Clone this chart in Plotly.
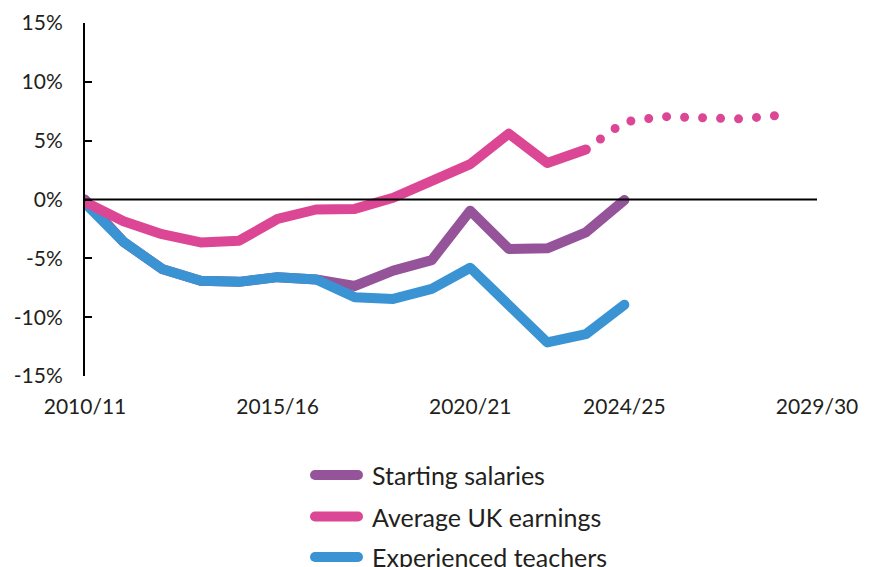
import plotly.graph_objects as go

years = ["2010/11", "2011/12", "2012/13", "2013/14", "2014/15", "2015/16", "2016/17",
         "2017/18", "2018/19", "2019/20", "2020/21", "2021/22", "2022/23", "2023/24",
         "2024/25", "2025/26", "2026/27", "2027/28", "2028/29", "2029/30"]

series_names = ["Starting salaries", "Average UK earnings", "Experienced teachers"]

starting_salaries = [0.0, -3.6, -5.9, -6.9, -7.0, -6.6, -6.8, -7.35, -6.05, -5.15,
                     -0.95, -4.2, -4.15, -2.8, -0.05]
experienced_teachers = [-0.3, -3.6, -5.9, -6.9, -7.0, -6.6, -6.8, -8.3, -8.45, -7.6,
                        -5.8, -9.0, -12.15, -11.45, -8.95]
uk_earnings = [-0.2, -1.85, -2.95, -3.65, -3.5, -1.65, -0.85, -0.8, 0.15, 1.6,
               3.0, 5.6, 3.1, 4.25]
uk_earnings_forecast = [4.25, 6.6, 7.05, 7.0, 6.85, 7.15]

y_tick_values = [15, 10, 5, 0, -5, -10, -15]
y_tick_labels = ["15%", "10%", "5%", "0%", "-5%", "-10%", "-15%"]
x_tick_labels = ["2010/11", "2015/16", "2020/21", "2024/25", "2029/30"]

PURPLE = "#95549A"
PINK = "#DC4795"
BLUE = "#3A93D2"
TEXT = "#231F20"
FONT = "Lato"

fig = go.Figure()
fig.add_trace(go.Scatter(x=years[:len(starting_salaries)], y=starting_salaries,
                         mode="lines", name=series_names[0],
                         line=dict(color=PURPLE, width=10), showlegend=False))
fig.add_trace(go.Scatter(x=years[:len(experienced_teachers)], y=experienced_teachers,
                         mode="lines", name=series_names[2],
                         line=dict(color=BLUE, width=10), showlegend=False))
fig.add_trace(go.Scatter(x=years[:len(uk_earnings)], y=uk_earnings,
                         mode="lines", name=series_names[1],
                         line=dict(color=PINK, width=10), showlegend=False))
start = len(uk_earnings) - 1
fig.add_trace(go.Scatter(x=years[start:start + len(uk_earnings_forecast)], y=uk_earnings_forecast,
                         mode="lines", name=series_names[1] + " (forecast)",
                         line=dict(color=PINK, width=9, dash="dot"), showlegend=False))

W, H = 869, 567
ML, MR, MT, MB = 85, 52, 23, 191
pw = W - ML - MR
ph = H - MT - MB


def px_to_paper_x(px):
    return (px - ML) / pw


def px_to_paper_y(py):
    return (H - MB - py) / ph


shapes = [dict(type="line", xref="paper", yref="y", x0=0, x1=1, y0=0, y1=0,
               line=dict(color="black", width=2), layer="above")]
annotations = []
legend_rows = [(series_names[0], PURPLE, 475), (series_names[1], PINK, 516.5),
               (series_names[2], BLUE, 557)]
for name, color, py in legend_rows:
    shapes.append(dict(type="line", xref="paper", yref="paper",
                       x0=px_to_paper_x(315), x1=px_to_paper_x(358),
                       y0=px_to_paper_y(py), y1=px_to_paper_y(py),
                       line=dict(color=color, width=10), layer="above"))
    annotations.append(dict(xref="paper", yref="paper", x=px_to_paper_x(370),
                            y=px_to_paper_y(py), xanchor="left", yanchor="middle",
                            text=name, showarrow=False,
                            font=dict(family=FONT, size=25, color=TEXT)))

fig.update_layout(
    width=W, height=H,
    margin=dict(l=ML, r=MR, t=MT, b=MB, pad=0),
    paper_bgcolor="white", plot_bgcolor="white",
    showlegend=False,
    font=dict(family=FONT, size=21, color=TEXT),
    shapes=shapes, annotations=annotations,
    xaxis=dict(type="category", categoryorder="array", categoryarray=years,
               range=[0, 19], tickmode="array", tickvals=x_tick_labels,
               ticktext=x_tick_labels, showgrid=False, zeroline=False,
               showline=False, ticks="", ticklabelstandoff=16, automargin=False,
               tickfont=dict(family=FONT, size=21, color=TEXT)),
    yaxis=dict(range=[-15, 15], tickmode="array", tickvals=y_tick_values,
               ticktext=y_tick_labels, showgrid=False, zeroline=False,
               showline=True, linecolor="black", linewidth=2, automargin=False,
               ticks="inside", ticklen=7, tickwidth=2, tickcolor="black",
               ticklabelstandoff=16,
               tickfont=dict(family=FONT, size=21, color=TEXT)),
)

post = """
document.documentElement.style.margin='0';
document.body.style.margin='0';
document.body.style.padding='0';
document.body.style.overflow='hidden';
var gd = document.getElementById('{plot_id}');
function fix(){
  gd.querySelectorAll('.scatterlayer path.js-line').forEach(function(p){
    p.style.strokeLinecap='round'; p.style.strokeLinejoin='round';
  });
  var tr = gd.querySelectorAll('.scatterlayer .trace');
  if (tr.length){
    var last = tr[tr.length-1].querySelector('path.js-line');
    if (last){ last.style.strokeDasharray='0px,18px'; }
  }
  gd.querySelectorAll('.shapelayer path').forEach(function(p){
    if (parseFloat(p.style.strokeWidth) >= 5){ p.style.strokeLinecap='round'; }
  });
}
fix();
gd.on('plotly_afterplot', fix);
"""

fig.write_html("out.html", post_script=post, config={"displayModeBar": False})
